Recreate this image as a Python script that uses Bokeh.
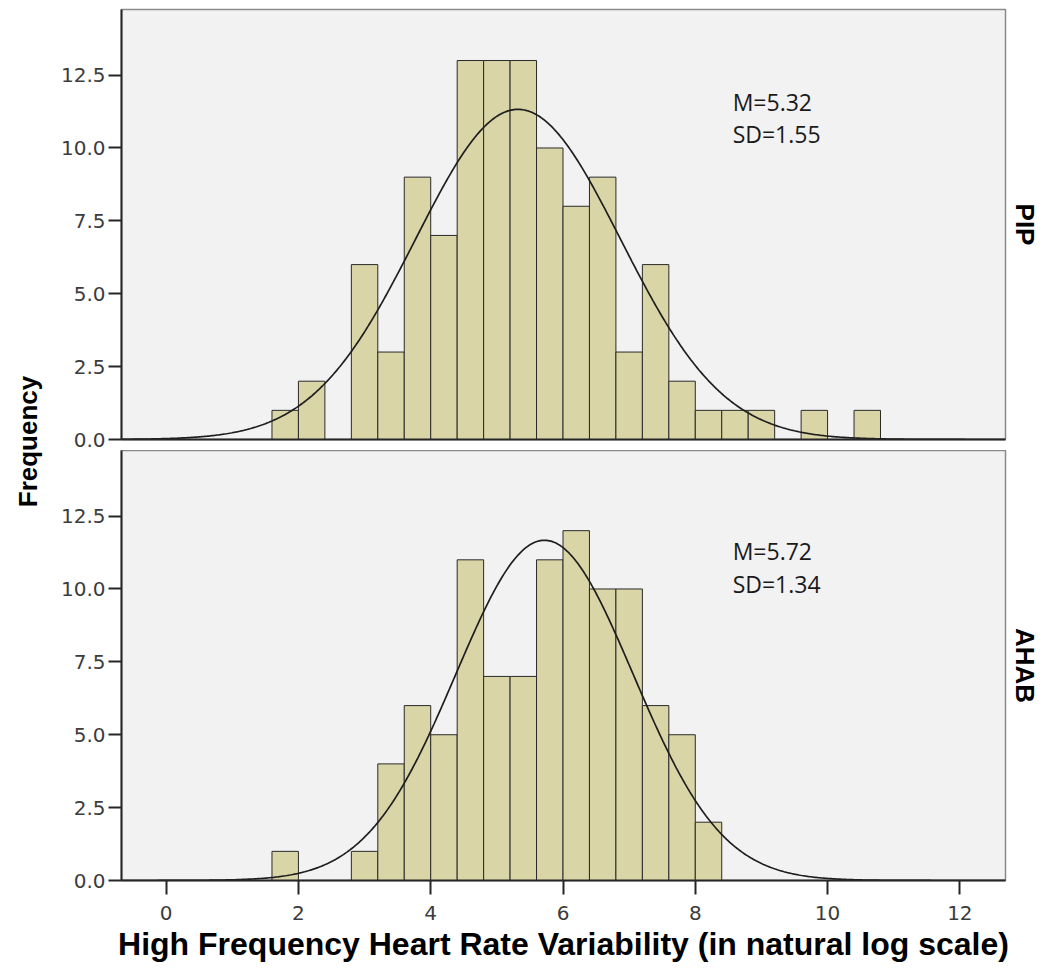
import numpy as np
from bokeh.plotting import figure
from bokeh.layouts import row, column
from bokeh.models import Range1d, FixedTicker, Title, Label, PrintfTickFormatter
from bokeh.core.properties import value
from bokeh.embed import file_html
from bokeh.resources import INLINE

# ---------------- data ----------------
bin_start = 1.6
bin_width = 0.4
pip_counts = [1, 2, 0, 6, 3, 9, 7, 13, 13, 13, 10, 8, 9, 3, 6, 2, 1, 1, 1, 0, 1, 0, 1]
ahab_counts = [1, 0, 0, 1, 4, 6, 5, 11, 7, 7, 11, 12, 10, 10, 6, 5, 2]
pip_mean, pip_sd = 5.32, 1.55
ahab_mean, ahab_sd = 5.72, 1.34
groups = ["PIP", "AHAB"]
x_ticks = [0, 2, 4, 6, 8, 10, 12]
y_ticks = [0.0, 2.5, 5.0, 7.5, 10.0, 12.5]
x_title = "High Frequency Heart Rate Variability (in natural log scale)"
y_title = "Frequency"

# ---------------- style ----------------
BAR_FILL = "#d9d5a7"
BG = "#f2f2f2"
AX = "#262626"
TICK_FONT = "DejaVu Sans"
BOLD_FONT = "Liberation Sans"

xr = Range1d(-0.675, 12.69)

def panel(counts, mean, sd, group, bottom, height, min_top, min_bottom, text_y):
    p = figure(width=997, height=height, x_range=xr, y_range=Range1d(0, 14.75),
               output_backend="svg", toolbar_location=None,
               min_border_left=73, min_border_right=38,
               min_border_top=min_top, min_border_bottom=min_bottom)
    p.background_fill_color = BG
    p.border_fill_color = "white"
    p.outline_line_color = "#8a8a8a"
    p.outline_line_width = 1.5
    p.grid.visible = False

    edges = bin_start + bin_width * np.arange(len(counts))
    c = np.array(counts, dtype=float)
    m = c > 0
    p.quad(left=edges[m], right=edges[m] + bin_width, bottom=0, top=c[m],
           fill_color=BAR_FILL, line_color="#2a2a2a", line_width=1)

    n = c.sum()
    xs = np.linspace(xr.start, xr.end, 600)
    ys = n * bin_width * np.exp(-0.5 * ((xs - mean) / sd) ** 2) / (sd * np.sqrt(2 * np.pi))
    p.line(xs, ys, line_color="#1e1e1e", line_width=1.7)

    p.text(x=[8.565, 8.565], y=[text_y, text_y - 1.12],
           text=["M=%.2f" % mean, "SD=%.2f" % sd],
           text_font=value("Open Sans"), text_font_size="23px",
           text_color="#1a1a1a", text_baseline="middle", text_align="left")

    # y axis
    ya = p.yaxis[0]
    ya.ticker = FixedTicker(ticks=y_ticks)
    ya.formatter = PrintfTickFormatter(format="%.1f")
    ya.axis_line_color = AX
    ya.axis_line_width = 2
    ya.major_tick_line_color = AX
    ya.major_tick_line_width = 2
    ya.major_tick_out = 13
    ya.major_tick_in = 0
    ya.minor_tick_line_color = None
    ya.major_label_standoff = 3
    ya.major_label_text_font = TICK_FONT
    ya.major_label_text_font_size = "20px"
    ya.major_label_text_color = "#3c3c3c"

    xa = p.xaxis[0]
    xa.axis_line_color = AX
    xa.axis_line_width = 2
    xa.minor_tick_line_color = None
    xa.major_tick_in = 0
    if bottom:
        xa.ticker = FixedTicker(ticks=x_ticks)
        xa.major_tick_line_color = AX
        xa.major_tick_line_width = 2
        xa.major_tick_out = 14
        xa.major_label_standoff = 11
        xa.major_label_text_font = TICK_FONT
        xa.major_label_text_font_size = "20px"
        xa.major_label_text_color = "#3c3c3c"
        xa.axis_label = x_title
        xa.axis_label_text_font = BOLD_FONT
        xa.axis_label_text_font_style = "bold"
        xa.axis_label_text_font_size = "32px"
        xa.axis_label_text_color = "black"
        xa.axis_label_standoff = 3
    else:
        xa.ticker = FixedTicker(ticks=[])
        xa.major_tick_line_color = None
        xa.major_tick_out = 0
        xa.major_label_standoff = 0

    t = Title(text=group, align="center", text_font=BOLD_FONT, text_font_style="bold",
              text_font_size="26px", text_color="black", standoff=8)
    p.add_layout(t, "right")
    return p

p1 = panel(pip_counts, pip_mean, pip_sd, groups[0], False, 450, 9, 11, 11.59)
p2 = panel(ahab_counts, ahab_mean, ahab_sd, groups[1], True, 520, 0, 90, 11.30)

lab = figure(width=48, height=882, x_range=Range1d(0, 1), y_range=Range1d(0, 1),
             output_backend="svg", toolbar_location=None, min_border=0)
lab.axis.visible = False
lab.grid.visible = False
lab.outline_line_color = None
lab.background_fill_color = "white"
lab.border_fill_color = "white"
lab.add_layout(Label(x=0.58, y=0.5, text=y_title, angle=np.pi / 2, text_align="center",
                     text_baseline="middle", text_font=BOLD_FONT, text_font_style="bold",
                     text_font_size="26px", text_color="black"))

layout = row(lab, column(p1, p2))
open("out.html", "w").write(file_html(layout, INLINE))
